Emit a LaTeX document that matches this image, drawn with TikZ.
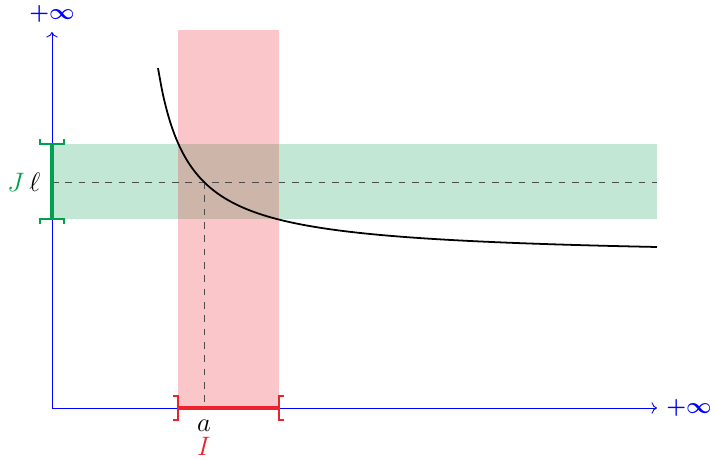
\documentclass[tikz,border=0pt]{standalone}
\usepackage{amsmath}
\usepackage{tikz}
\usetikzlibrary{arrows.meta,positioning}
\definecolor{jgreen}{RGB}{0,160,80}
\definecolor{ired}{RGB}{235,35,45}
\tikzset{
  axis/.style={->, draw=blue, line width=0.4pt},
  band/.style={draw=none, fill opacity=0.24},
  guide/.style={dashed, draw=black!70, line width=0.4pt},
  graph/.style={draw=black, line width=0.8pt},
  intv/.style={line width=1.4pt},
  brk/.style={line width=0.8pt},
  inflabel/.style={text=blue, inner sep=1pt, font=\normalsize},
}

\begin{document}
\begin{tikzpicture}[x=0.45pt, y=0.45pt, every node/.style={font=\large}]
    \useasboundingbox (0,0) rectangle (715,459);
    % bands
    \fill[band, fill=jgreen] (52,240) rectangle (657,315);
    \fill[band, fill=ired, fill opacity=0.26] (178,51) rectangle (279,429);
    % axes
    \coordinate (O) at (52,51);
    \coordinate (xend) at (657,51);
    \coordinate (yend) at (52,427);
    \draw[axis] (O) -- (xend);
    \draw[axis] (O) -- (yend);
    \node[inflabel, right=3pt of xend] (xinf) {$\boldsymbol{+\infty}$};
    \node[inflabel] (yinf) at (52,445) {$\boldsymbol{+\infty}$};
    % limit and point
    \coordinate (P) at (204,277);
    \coordinate (Pl) at (52,277);
    \coordinate (Pr) at (657,277);
    \coordinate (Pa) at (204,51);
    \draw[guide] (Pl) -- (Pr);
    \draw[guide] (P) -- (Pa);
    % curve
    \draw[graph] plot[domain=158:657, samples=120, smooth] (\x, {201 + 5830/(\x-127.3)});
    % interval I
    \coordinate (Il) at (178,51);
    \coordinate (Ir) at (279,51);
    \draw[intv, draw=ired] (Il) -- (Ir);
    \draw[brk, draw=ired] ([shift={(-5,12)}]Il) -- ++(5,0) -- ++(0,-24) -- ++(-5,0);
    \draw[brk, draw=ired] ([shift={(5,12)}]Ir) -- ++(-5,0) -- ++(0,-24) -- ++(5,0);
    \node[inner sep=1pt] (a) at (204,33) {$a$};
    \node[text=ired, inner sep=1pt] (I) at (204,13) {$I$};
    % interval J
    \coordinate (Jb) at (52,240);
    \coordinate (Jt) at (52,315);
    \draw[intv, draw=jgreen] (Jb) -- (Jt);
    \draw[brk, draw=jgreen] ([shift={(-12,5)}]Jt) -- ++(0,-5) -- ++(24,0) -- ++(0,5);
    \draw[brk, draw=jgreen] ([shift={(-12,-5)}]Jb) -- ++(0,5) -- ++(24,0) -- ++(0,-5);
    \node[left=4pt of Pl, inner sep=1pt] (l) {$\ell$};
    \node[text=jgreen, left=0pt of l, inner sep=1pt] (J) {$J$};
\end{tikzpicture}
\end{document}
